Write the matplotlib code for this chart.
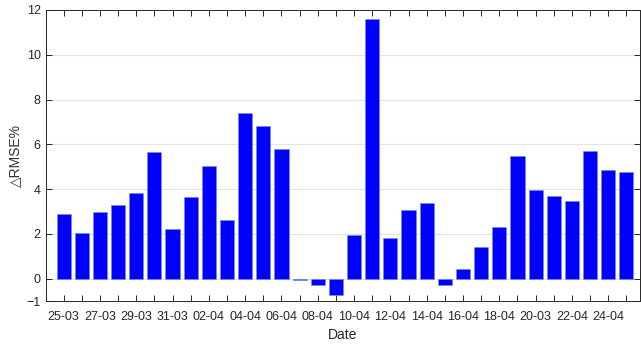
import numpy as np
import matplotlib.pyplot as plt

plt.rcParams['font.family'] = ['Liberation Sans', 'DejaVu Sans']

dates = ['25-03', '26-03', '27-03', '28-03', '29-03', '30-03', '31-03',
         '01-04', '02-04', '03-04', '04-04', '05-04', '06-04', '07-04',
         '08-04', '09-04', '10-04', '11-04', '12-04', '13-04', '14-04',
         '15-04', '16-04', '17-04', '18-04', '19-04', '20-03', '21-04',
         '22-04', '23-04', '24-04', '25-04']
drmse = [2.87, 2.04, 2.99, 3.27, 3.82, 5.65, 2.22, 3.64, 5.04, 2.62,
         7.42, 6.83, 5.81, -0.05, -0.30, -0.71, 1.96, 11.61, 1.83, 3.05,
         3.39, -0.28, 0.42, 1.43, 2.32, 5.50, 3.94, 3.67, 3.48, 5.72,
         4.83, 4.77]
yticks = [-1, 0, 2, 4, 6, 8, 10, 12]

fig = plt.figure(figsize=(6.41, 3.46), dpi=100)
ax = fig.add_axes([45.5 / 641, 45 / 346, 594.5 / 641, 291 / 346])

x = np.arange(1, len(drmse) + 1)
ax.bar(x, drmse, width=0.78, color='#0000ff', edgecolor='#6f8fd8', linewidth=0.4, zorder=3)

ax.set_xlim(0, 32.75)
ax.set_ylim(-1, 12)
ax.set_yticks(yticks)
ax.set_xticks(x)
ax.set_xticklabels([d if i % 2 == 0 else '' for i, d in enumerate(dates)])
ax.yaxis.grid(True, color='#e3e3e3', linewidth=0.8, zorder=0)

ax.tick_params(direction='in', top=True, right=True, length=4, width=0.7,
               color='#262626', labelcolor='#262626', labelsize=9)
ax.tick_params(axis='x', pad=7)
for s in ax.spines.values():
    s.set_color('#262626')
    s.set_linewidth(0.7)

ax.set_xlabel('Date', fontsize=10, color='#262626', labelpad=4)
ax.set_ylabel('\u25b3RMSE%', fontsize=10, color='#333333', labelpad=3)

fig.savefig('out.png', dpi=100)
